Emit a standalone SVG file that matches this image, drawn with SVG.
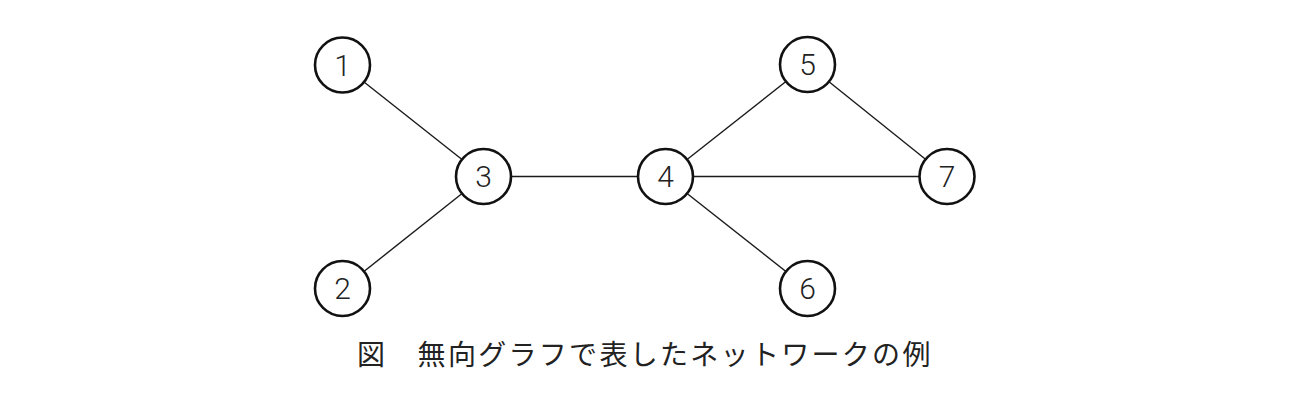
<svg xmlns="http://www.w3.org/2000/svg" width="1302" height="412" viewBox="0 0 1302 412">
<style>
.edge{stroke:#1a1a1a;stroke-width:1.4;fill:none}
.node circle{fill:#fff;stroke:#111;stroke-width:2.6}
.node text{font-family:Roboto,"Liberation Sans",sans-serif;font-weight:300;font-size:30px;fill:#222;text-anchor:middle}
.cap{font-family:"Noto Sans CJK JP",sans-serif;font-weight:400;font-size:28px;fill:#222}
</style>
<rect width="1302" height="412" fill="#fff"/>
<g id="connectors">
<line class="edge" x1="342.5" y1="65" x2="483.5" y2="176.5"/>
<line class="edge" x1="342.5" y1="288.5" x2="483.5" y2="176.5"/>
<line class="edge" x1="483.5" y1="176.5" x2="665.5" y2="176.5"/>
<line class="edge" x1="665.5" y1="176.5" x2="807.5" y2="64.5"/>
<line class="edge" x1="665.5" y1="176.5" x2="947" y2="176.5"/>
<line class="edge" x1="665.5" y1="176.5" x2="807.5" y2="288.5"/>
<line class="edge" x1="807.5" y1="64.5" x2="947" y2="176.5"/>
</g>
<g id="n1" class="node"><circle cx="342.5" cy="65" r="27.5"/><text x="342.5" y="75.5">1</text></g>
<g id="n2" class="node"><circle cx="342.5" cy="288.5" r="27.5"/><text x="342.5" y="299">2</text></g>
<g id="n3" class="node"><circle cx="483.5" cy="176.5" r="27.5"/><text x="483.5" y="187">3</text></g>
<g id="n4" class="node"><circle cx="665.5" cy="176.5" r="27.5"/><text x="665.5" y="187">4</text></g>
<g id="n5" class="node"><circle cx="807.5" cy="64.5" r="27.5"/><text x="807.5" y="75">5</text></g>
<g id="n6" class="node"><circle cx="807.5" cy="288.5" r="27.5"/><text x="807.5" y="299">6</text></g>
<g id="n7" class="node"><circle cx="947" cy="176.5" r="27.5"/><text x="947" y="187">7</text></g>
<text class="cap" x="357" y="365" letter-spacing="2.3">図　無向グラフで表したネットワークの例</text>
</svg>
